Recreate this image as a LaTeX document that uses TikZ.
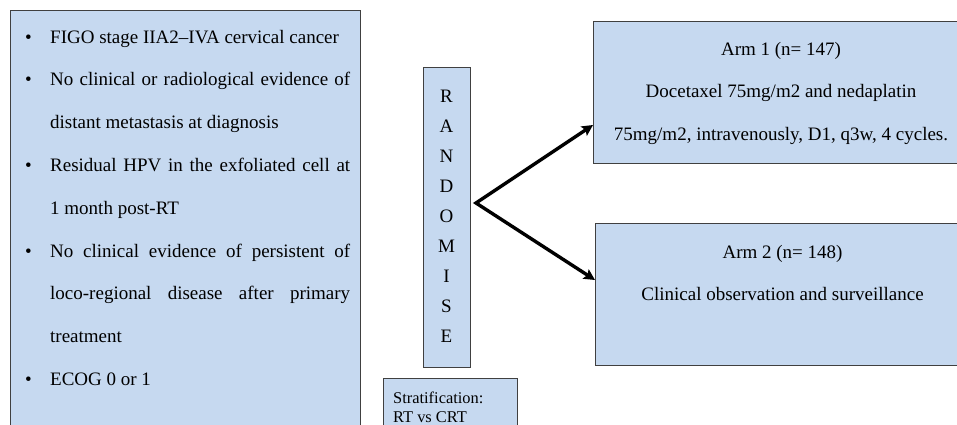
\documentclass[tikz,border=0pt]{standalone}
\usepackage{fontspec}
\setmainfont{Liberation Serif}
\usetikzlibrary{arrows.meta}
\definecolor{boxfill}{HTML}{C6D9F0}
\definecolor{boxline}{HTML}{404040}
\begin{document}
\begin{tikzpicture}[x=1pt,y=-1pt,
  box/.style={draw=boxline, fill=boxfill, line width=1pt, anchor=north west, inner sep=0pt},
  txt/.style={font=\fontsize{19}{23}\selectfont, anchor=base west, inner sep=0pt},
  ctxt/.style={font=\fontsize{19}{23}\selectfont, anchor=base, inner sep=0pt},
  stxt/.style={font=\fontsize{16.4}{20}\selectfont, anchor=base west, inner sep=0pt},
  arr/.style={line width=3.4pt, line join=miter, miter limit=20,
    {Stealth[length=11pt,width=11pt,inset=2pt]}-{Stealth[length=11pt,width=11pt,inset=2pt]}}]
\useasboundingbox (0,0) rectangle (957,424);
\clip (0,0) rectangle (957,424);
% boxes
\node[box, minimum width=350pt, minimum height=440pt] (incl) at (10,10) {};
\node[box, minimum width=47pt, minimum height=300pt] (rand) at (423,67) {};
\node[box, minimum width=134pt, minimum height=80pt] (strat) at (383,378) {};
\node[box, minimum width=376pt, minimum height=142pt] (arm1) at (593,21) {};
\node[box, minimum width=376pt, minimum height=142pt] (arm2) at (595,223) {};
% inclusion criteria
\node[txt] (b1) at (25,43) {\textbullet};
\node[txt] (b2) at (25,85.8) {\textbullet};
\node[txt] (b3) at (25,171.4) {\textbullet};
\node[txt] (b4) at (25,257) {\textbullet};
\node[txt] (b5) at (25,385.4) {\textbullet};
\node[txt] (l1) at (50,43) {FIGO stage IIA2–IVA cervical cancer};
\node[txt] (l2) at (50,85.8) {\makebox[300pt][s]{No clinical or radiological evidence of}};
\node[txt] (l3) at (50,128.6) {distant metastasis at diagnosis};
\node[txt] (l4) at (50,171.4) {\makebox[300pt][s]{Residual HPV in the exfoliated cell at}};
\node[txt] (l5) at (50,214.2) {1 month post-RT};
\node[txt] (l6) at (50,257) {\makebox[300pt][s]{No clinical evidence of persistent of}};
\node[txt] (l7) at (50,299.8) {\makebox[300pt][s]{loco-regional disease after primary}};
\node[txt] (l8) at (50,342.6) {treatment};
\node[txt] (l9) at (50,385.4) {ECOG 0 or 1};
% randomise
\foreach \c [count=\i from 0] in {R,A,N,D,O,M,I,S,E}
  \node[ctxt] (r\i) at (446.5,102+30*\i) {\c};
% stratification
\node[stxt] (s1) at (393,403) {Stratification:};
\node[stxt] (s2) at (393,422) {RT vs CRT};
% arms
\node[ctxt] (a11) at (781,55) {Arm 1 (n= 147)};
\node[ctxt] (a12) at (781,97) {Docetaxel 75mg/m2 and nedaplatin};
\node[ctxt] (a13) at (781,140) {75mg/m2, intravenously, D1, q3w, 4 cycles.};
\node[ctxt] (a21) at (782.5,258) {Arm 2 (n= 148)};
\node[ctxt] (a22) at (782.5,300) {Clinical observation and surveillance};
% arrows
\coordinate (v) at (476,203);
\coordinate (e1) at (arm1.west |- 0,125);
\coordinate (e2) at (arm2.west |- 0,280);
\draw[arr] (e1) -- (v) -- (e2);
\end{tikzpicture}
\end{document}
